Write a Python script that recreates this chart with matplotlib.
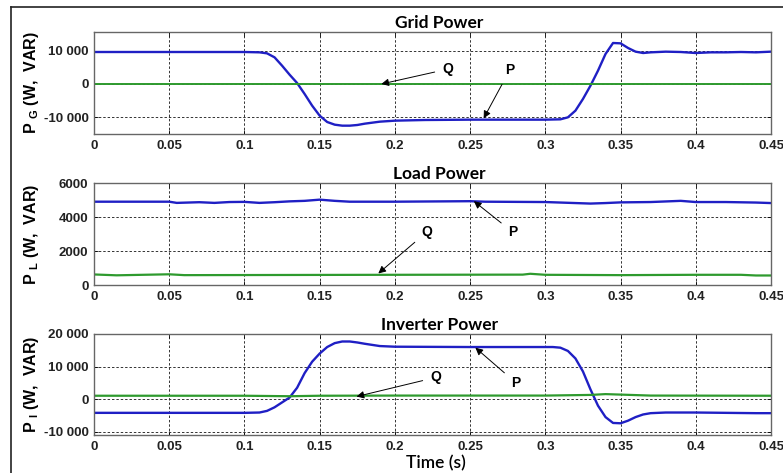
import numpy as np
import matplotlib
matplotlib.use("Agg")
import matplotlib.pyplot as plt
from matplotlib.lines import Line2D

plt.rcParams['font.family'] = ['Liberation Sans', 'DejaVu Sans']
plt.rcParams['mathtext.fontset'] = 'custom'
plt.rcParams['mathtext.rm'] = 'Liberation Sans:bold'
plt.rcParams['mathtext.bf'] = 'Liberation Sans:bold'

# ---- data ----
x_ticks = [0, 0.05, 0.1, 0.15, 0.2, 0.25, 0.3, 0.35, 0.4, 0.45]
x_ticklabels = ['0', '0.05', '0.1', '0.15', '0.2', '0.25', '0.3', '0.35', '0.4', '0.45']

# Grid power
grid_t = [0, 0.05, 0.1, 0.11, 0.115, 0.12, 0.125, 0.13, 0.135, 0.14, 0.145, 0.15,
          0.155, 0.16, 0.165, 0.17, 0.175, 0.18, 0.19, 0.2, 0.21, 0.22, 0.25, 0.3,
          0.31, 0.315, 0.32, 0.325, 0.33, 0.335, 0.34, 0.345, 0.35, 0.355, 0.36,
          0.365, 0.37, 0.38, 0.39, 0.4, 0.41, 0.42, 0.43, 0.44, 0.45]
grid_p = [9600, 9600, 9600, 9500, 9200, 8000, 5500, 2800, 300, -3000, -6500, -9500,
          -11400, -12200, -12500, -12500, -12300, -11900, -11300, -11000, -10900,
          -10800, -10700, -10700, -10600, -10000, -8000, -4500, -500, 4000, 9000,
          12300, 12200, 10800, 9700, 9300, 9500, 9700, 9600, 9300, 9500, 9500, 9600,
          9500, 9700]
grid_q_t = [0, 0.45]
grid_q = [0, 0]
grid_yticks = [-10000, 0, 10000]
grid_yticklabels = ['-10 000', '0', '10 000']

# Load power
load_t = [0, 0.02, 0.05, 0.055, 0.07, 0.08, 0.09, 0.1, 0.11, 0.12, 0.13, 0.14, 0.15,
          0.16, 0.17, 0.2, 0.25, 0.26, 0.3, 0.32, 0.33, 0.34, 0.35, 0.37, 0.39, 0.4,
          0.42, 0.44, 0.45]
load_p = [4900, 4900, 4900, 4830, 4870, 4830, 4880, 4890, 4830, 4870, 4920, 4950, 5020,
          4950, 4900, 4900, 4930, 4900, 4880, 4820, 4790, 4820, 4860, 4880, 4950, 4880,
          4880, 4850, 4820]
load_q_t = [0, 0.015, 0.05, 0.06, 0.13, 0.2, 0.285, 0.29, 0.3, 0.35, 0.4, 0.43, 0.44, 0.45]
load_q = [620, 570, 630, 580, 590, 600, 610, 660, 600, 580, 600, 600, 560, 560]
load_yticks = [0, 2000, 4000, 6000]
load_yticklabels = ['0', '2000', '4000', '6000']

# Inverter power
inv_t = [0, 0.05, 0.1, 0.11, 0.115, 0.12, 0.125, 0.13, 0.135, 0.14, 0.145, 0.15, 0.155,
         0.16, 0.165, 0.17, 0.175, 0.18, 0.19, 0.2, 0.25, 0.3, 0.305, 0.31, 0.315, 0.32,
         0.325, 0.33, 0.335, 0.34, 0.345, 0.35, 0.355, 0.36, 0.365, 0.37, 0.38, 0.4,
         0.42, 0.44, 0.45]
inv_p = [-4200, -4200, -4200, -4100, -3600, -2500, -1000, 500, 3500, 8000, 11500, 14000,
         16000, 17200, 17700, 17700, 17400, 17000, 16300, 16100, 16000, 16000, 16000,
         15800, 14800, 12500, 8500, 3000, -2000, -5500, -7300, -7400, -6600, -5500,
         -4700, -4300, -4100, -4100, -4200, -4300, -4300]
inv_q_t = [0, 0.1, 0.13, 0.15, 0.2, 0.3, 0.33, 0.34, 0.35, 0.37, 0.45]
inv_q = [1050, 1050, 900, 1050, 1100, 1100, 1300, 1550, 1400, 1100, 1050]
inv_yticks = [-10000, 0, 10000, 20000]
inv_yticklabels = ['-10 000', '0', '10 000', '20 000']

BLUE = '#1f1fc4'
GREEN = '#2e9a2e'

fig = plt.figure(figsize=(7.83, 4.73), dpi=100)
fig.patch.set_facecolor('white')

# outer frame (left and top edges visible)
fig.add_artist(Line2D([11 / 783, 11 / 783], [0, 1 - 7 / 473], color='#222222', lw=1.2))
fig.add_artist(Line2D([11 / 783, 1], [1 - 7 / 473, 1 - 7 / 473], color='#222222', lw=1.2))

left, width = 94 / 783, (771 - 94) / 783
rows = [(32, 134), (183, 285), (334, 435)]
axes = []
for top, bot in rows:
    ax = fig.add_axes([left, 1 - bot / 473, width, (bot - top) / 473])
    axes.append(ax)


def style(ax, yticks, yticklabels, ylim, ylabel, title):
    ax.set_xlim(0, 0.45)
    ax.set_ylim(*ylim)
    ax.set_xticks(x_ticks)
    ax.set_xticklabels(x_ticklabels, fontsize=9.5, fontweight='bold', color='#222222')
    ax.set_yticks(yticks)
    ax.set_yticklabels(yticklabels, fontsize=9.5, fontweight='bold', color='#222222')
    ax.tick_params(direction='in', length=3, width=0.6, top=True, right=True, pad=4)
    ax.grid(True, color='#333333', linestyle=(0, (2.5, 2)), linewidth=0.7)
    for s in ax.spines.values():
        s.set_color('#666666')
        s.set_linewidth(1.0)
    ax.set_ylabel(ylabel, fontsize=11.5, fontweight='bold', labelpad=4)
    ax.yaxis.set_label_coords(-0.078, 0.5)
    ax.set_title(title, fontsize=12.5, fontweight='bold', family='Lato', pad=3, x=0.51)


def note(ax, label, text_xy, tip_xy):
    ax.annotate(label, xy=tip_xy, xytext=text_xy, fontsize=10, fontweight='bold',
                ha='center', va='center',
                arrowprops=dict(arrowstyle='-|>', color='black', lw=0.7,
                                mutation_scale=11, shrinkA=4, shrinkB=0))


ax = axes[0]
ax.plot(grid_t, grid_p, color=BLUE, lw=1.7)
ax.plot(grid_q_t, grid_q, color=GREEN, lw=1.4)
style(ax, grid_yticks, grid_yticklabels, (-15000, 15600),
      r'P $_{\mathbf{G}}$ (W,  VAR)', 'Grid Power')
note(ax, 'Q', (0.2355, 4500), (0.191, 0))
note(ax, 'P', (0.2765, 4300), (0.259, -10300))

ax = axes[1]
ax.plot(load_t, load_p, color=BLUE, lw=1.7)
ax.plot(load_q_t, load_q, color=GREEN, lw=1.6)
style(ax, load_yticks, load_yticklabels, (0, 6000),
      r'P $_{\mathbf{L}}$ (W,  VAR)', 'Load Power')
note(ax, 'Q', (0.2215, 3140), (0.189, 680))
note(ax, 'P', (0.2785, 3100), (0.2525, 4930))

ax = axes[2]
ax.plot(inv_t, inv_p, color=BLUE, lw=1.7)
ax.plot(inv_q_t, inv_q, color=GREEN, lw=1.6)
style(ax, inv_yticks, inv_yticklabels, (-11000, 20000),
      r'P $_{\mathbf{I}}$ (W,  VAR)', 'Inverter Power')
note(ax, 'Q', (0.2275, 6700), (0.1745, 800))
note(ax, 'P', (0.2805, 5000), (0.2535, 15800))
ax.set_xlabel('Time (s)', fontsize=12.5, family='Lato', fontweight='semibold',
              labelpad=2)
ax.xaxis.set_label_coords(0.505, -0.2)

fig.savefig('out.png', dpi=100)
